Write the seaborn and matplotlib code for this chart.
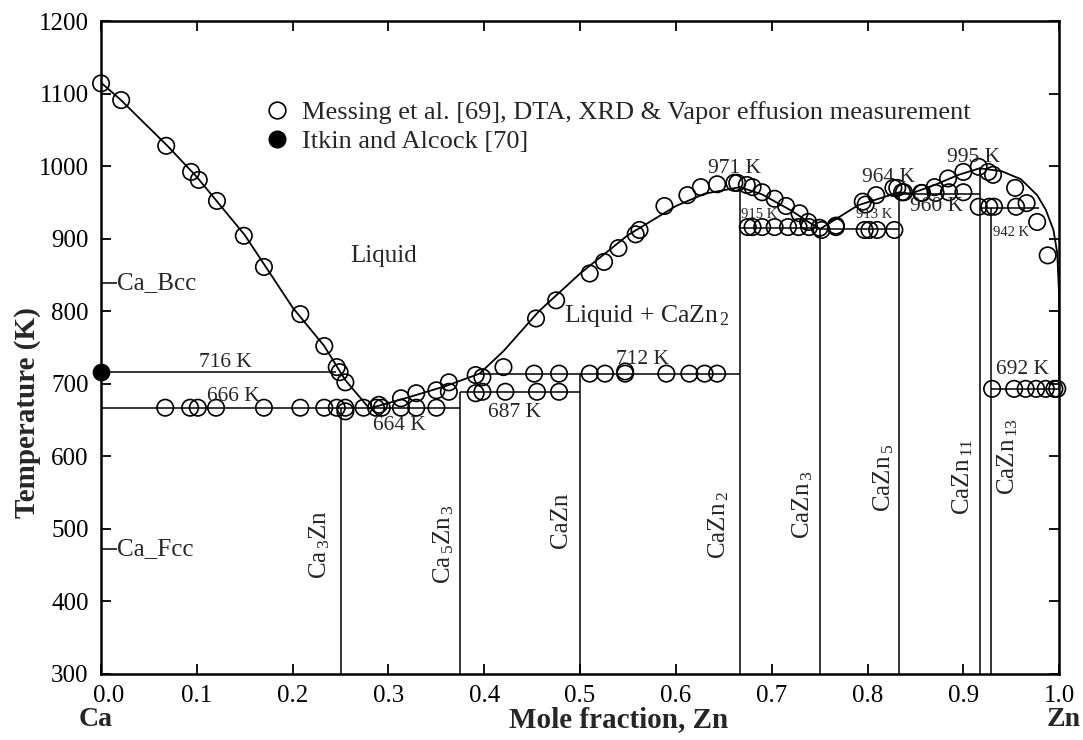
import numpy as np
import pandas as pd
import matplotlib
matplotlib.use("Agg")
import matplotlib.pyplot as plt
from matplotlib.lines import Line2D
import matplotlib.transforms as mtransforms
import seaborn as sns

# ---------------- data ----------------
# liquidus curves (x = mole fraction Zn, T in K)
liq_ca_x = [0.0, 0.02, 0.07, 0.10, 0.15, 0.20, 0.233, 0.255, 0.28]
liq_ca_t = [1115, 1092, 1027, 985, 905, 805, 752, 705, 666]
liq_eu_x = [0.28, 0.32, 0.36, 0.395, 0.42, 0.457, 0.50, 0.55, 0.60, 0.63, 0.667]
liq_eu_t = [666, 681, 697, 714, 745, 800, 852, 905, 945, 962, 971]
liq_z2_x = [0.667, 0.69, 0.72, 0.75]
liq_z2_t = [971, 961, 939, 913]
liq_z3_x = [0.75, 0.79, 0.833, 0.845, 0.87, 0.895, 0.917]
liq_z3_t = [913, 946, 964, 962, 974, 988, 997]
liq_zn_x = [0.917, 0.94, 0.96, 0.977, 0.986, 0.994, 0.998, 1.0, 1.0]
liq_zn_t = [997, 993, 982, 960, 940, 912, 880, 820, 693]

# invariant horizontal lines
inv_t = [716, 667, 688, 714, 915, 913, 962, 942, 693, 839, 472]
inv_x0 = [0.0, 0.0, 0.375, 0.395, 0.667, 0.75, 0.833, 0.917, 0.929, 0.0, 0.0]
inv_x1 = [0.245, 0.375, 0.5, 0.667, 0.75, 0.833, 0.917, 0.979, 1.0, 0.017, 0.017]

# compound vertical lines
comp_x = [0.25, 0.375, 0.5, 0.667, 0.75, 0.833, 0.917, 0.929]
comp_top = [667, 688, 714, 971, 915, 964, 997, 942]

# Messing et al. measurement points
mes_x = [0.0, 0.021, 0.068, 0.094, 0.102, 0.121, 0.149, 0.17, 0.208, 0.233, 0.246, 0.249, 0.255,
         0.067, 0.093, 0.101, 0.12, 0.17, 0.208, 0.233, 0.246, 0.255, 0.274, 0.287, 0.293, 0.313, 0.329, 0.35, 0.255,
         0.29, 0.313, 0.329, 0.35, 0.363, 0.391, 0.398,
         0.363, 0.391, 0.398, 0.422, 0.455, 0.478,
         0.42, 0.452, 0.478, 0.51, 0.526, 0.547, 0.547, 0.59, 0.614, 0.63, 0.643,
         0.454, 0.475, 0.51, 0.525, 0.54, 0.558, 0.562, 0.588, 0.612, 0.626, 0.643, 0.661, 0.664,
         0.674, 0.68, 0.69, 0.703, 0.715, 0.729, 0.738, 0.75,
         0.675, 0.68, 0.69, 0.703, 0.717, 0.728, 0.739, 0.752, 0.767,
         0.767, 0.795, 0.798, 0.809, 0.827, 0.831, 0.836, 0.838, 0.856, 0.857, 0.87, 0.871, 0.884, 0.885,
         0.9, 0.9, 0.916, 0.926, 0.931, 0.954, 0.966, 0.977, 0.988,
         0.797, 0.802, 0.81, 0.828,
         0.916, 0.927, 0.932, 0.955,
         0.93, 0.953, 0.965, 0.976, 0.986, 0.995, 0.998]
mes_t = [1114, 1091, 1028, 992, 981, 952, 904, 861, 796, 752, 723, 716, 702,
         667, 667, 667, 667, 667, 667, 667, 667, 667, 667, 667, 667, 667, 667, 667, 662,
         671, 680, 687, 691, 702, 712, 709,
         689, 687, 689, 689, 689, 689,
         723, 714, 714, 714, 714, 714, 717, 714, 714, 714, 714,
         790, 815, 852, 868, 887, 906, 912, 945, 960, 971, 975, 977, 977,
         974, 971, 964, 955, 945, 935, 923, 915,
         916, 916, 916, 916, 916, 916, 916, 912, 916,
         918, 951, 947, 960, 970, 970, 964, 964, 963, 963, 971, 963, 983, 964,
         992, 964, 999, 992, 988, 970, 949, 923, 877,
         912, 912, 912, 912,
         944, 944, 944, 944,
         693, 693, 693, 693, 693, 693, 693]

# Itkin and Alcock point
itk_x = [0.0]
itk_t = [716]

# text labels
temp_labels = ["716 K", "666 K", "664 K", "687 K", "712 K", "971 K", "964 K", "995 K", "960 K", "692 K"]
temp_lx = [0.130, 0.138, 0.311, 0.432, 0.565, 0.661, 0.822, 0.911, 0.872, 0.962]
temp_ly = [730, 682, 643, 660, 733, 997, 985, 1012, 944, 719]
small_labels = ["915 K", "913 K", "942 K"]
small_lx = [0.687, 0.807, 0.95]
small_ly = [934, 933, 908]
phase_labels = [r"Ca$_{\,3}$Zn", r"Ca$_{\,5}$Zn$_{\,3}$", "CaZn", r"CaZn$_{\,2}$", r"CaZn$_{\,3}$",
                r"CaZn$_{\,5}$", r"CaZn$_{\,11}$", r"CaZn$_{\,13}$"]
phase_lx = [0.228, 0.358, 0.48, 0.645, 0.732, 0.817, 0.899, 0.946]
phase_ly = [479, 479, 512, 505, 533, 570, 572, 600]
x_ticks = [0.0, 0.1, 0.2, 0.3, 0.4, 0.5, 0.6, 0.7, 0.8, 0.9, 1.0]
y_ticks = [300, 400, 500, 600, 700, 800, 900, 1000, 1100, 1200]

# ---------------- plot ----------------
sns.set_theme(style="ticks")
plt.rcParams["font.family"] = ["Liberation Serif", "DejaVu Serif"]
plt.rcParams["mathtext.fontset"] = "custom"
plt.rcParams["mathtext.rm"] = "Liberation Serif"
plt.rcParams["mathtext.it"] = "Liberation Serif"

fig = plt.figure(figsize=(10.83, 7.40), dpi=100)
ax = fig.add_axes([0.0933, 0.0892, 0.8847, 0.8824])

lw = 1.3
for xs, ts in [(liq_ca_x, liq_ca_t), (liq_eu_x, liq_eu_t), (liq_z2_x, liq_z2_t),
               (liq_z3_x, liq_z3_t), (liq_zn_x, liq_zn_t)]:
    sns.lineplot(x=xs, y=ts, sort=False, estimator=None, color="black", lw=lw, ax=ax)

ax.hlines(inv_t, inv_x0, inv_x1, color="black", lw=1.1)
ax.vlines(comp_x, [300] * len(comp_x), comp_top, color="black", lw=1.1)

sns.scatterplot(x=mes_x, y=mes_t, marker="o", s=140, facecolors="none",
                edgecolor="black", linewidth=1.2, ax=ax, zorder=3, clip_on=False)
sns.scatterplot(x=itk_x, y=itk_t, marker="o", s=140, color="black",
                edgecolor="black", ax=ax, zorder=4, clip_on=False)

# labels
for s, x, y in zip(temp_labels, temp_lx, temp_ly):
    ax.text(x, y, s, ha="center", va="center", fontsize=15.5)
for s, x, y in zip(small_labels, small_lx, small_ly):
    ax.text(x, y, s, ha="center", va="center", fontsize=10.5)
for s, x, y in zip(phase_labels, phase_lx, phase_ly):
    ax.text(x, y, s, ha="center", va="center", fontsize=18, rotation=90)

ax.text(0.295, 876, "Liquid", ha="center", va="center", fontsize=18)
ax.text(0.57, 793, r"Liquid + CaZn$_{\,2}$", ha="center", va="center", fontsize=18.5)
ax.text(0.017, 839, "Ca_Bcc", ha="left", va="center", fontsize=18)
ax.text(0.017, 472, "Ca_Fcc", ha="left", va="center", fontsize=18)

# legend
handles = [Line2D([], [], marker="o", ls="none", mfc="none", mec="black", ms=12, mew=1.2),
           Line2D([], [], marker="o", ls="none", mfc="black", mec="black", ms=12)]
labels = ["Messing et al. [69], DTA, XRD & Vapor effusion measurement", "Itkin and Alcock [70]"]
ax.legend(handles, labels, loc="upper left", bbox_to_anchor=(0.170, 0.878), frameon=False,
          fontsize=19, handletextpad=0.45, labelspacing=0.2, borderaxespad=0, borderpad=0,
          handlelength=1.0)

ax.set_xlim(0, 1.0)
ax.set_ylim(300, 1200)
ax.set_xticks(x_ticks)
ax.set_xticklabels([f"{v:.1f}" for v in x_ticks])
ax.set_yticks(y_ticks)
ax.tick_params(direction="in", length=7, width=1.3, labelsize=18, top=True, right=True,
               colors="black")
ax.tick_params(axis="y", pad=9)
ax.tick_params(axis="x", pad=8)
# first x tick label sits slightly right of the spine in the reference
lab0 = ax.get_xticklabels()[0]
lab0.set_transform(lab0.get_transform() + mtransforms.ScaledTranslation(8 / 100, 0, fig.dpi_scale_trans))
for sp in ax.spines.values():
    sp.set_visible(True)
    sp.set_linewidth(1.8)
    sp.set_color("black")

ax.set_ylabel("Temperature (K)", fontsize=21, fontweight="bold")
ax.yaxis.set_label_coords(-0.063, 0.40)
ax.set_xlabel("Mole fraction, Zn", fontsize=21, fontweight="bold")
ax.xaxis.set_label_coords(0.54, -0.069)
ax.xaxis.label.set_va("center")
ax.text(-0.006, -0.069, "Ca", transform=ax.transAxes, ha="center", va="center",
        fontsize=20, fontweight="bold")
ax.text(1.005, -0.069, "Zn", transform=ax.transAxes, ha="center", va="center",
        fontsize=20, fontweight="bold")

fig.savefig("out.png", dpi=100)
